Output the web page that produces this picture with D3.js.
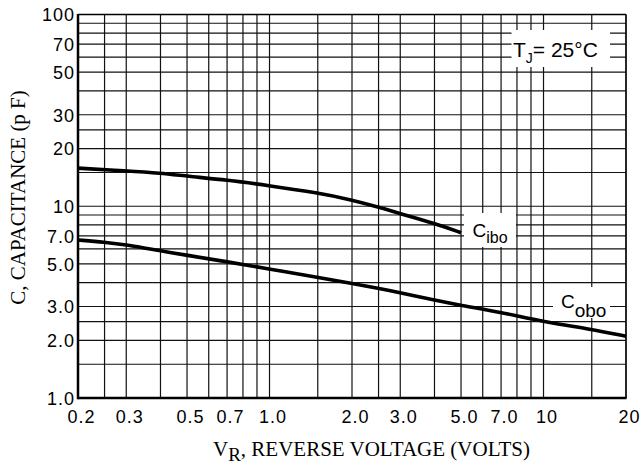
<!DOCTYPE html>
<html>
<head>
<meta charset="utf-8">
<script src="https://cdn.jsdelivr.net/npm/d3@7"></script>
<style>
  html, body { margin: 0; padding: 0; background: #fff; }
  svg { display: block; }
  .tick-label { font-family: "Liberation Sans", Arial, sans-serif; font-size: 18px; letter-spacing: 1px; fill: #000; }
  .axis-title { font-family: "Liberation Serif", "Times New Roman", serif; font-size: 21px; fill: #000; }
  .note { font-family: "Liberation Sans", Arial, sans-serif; fill: #000; }
</style>
</head>
<body>
<svg id="chart" width="642" height="466"></svg>
<script>
// Reverse voltage (V) tick positions and labels
const xTicks = [0.2, 0.3, 0.5, 0.7, 1, 2, 3, 5, 7, 10, 20];
const xTickLabels = ["0.2", "0.3", "0.5", "0.7", "1.0", "2.0", "3.0", "5.0", "7.0", "10", "20"];
// Capacitance (pF) tick positions and labels
const yTicks = [1, 2, 3, 5, 7, 10, 20, 30, 50, 70, 100];
const yTickLabels = ["1.0", "2.0", "3.0", "5.0", "7.0", "10", "20", "30", "50", "70", "100"];
// Log-paper grid lines
const xGrid = [0.2, 0.25, 0.3, 0.4, 0.5, 0.6, 0.7, 0.8, 0.9, 1, 1.5, 2, 2.5, 3, 4, 5, 6, 7, 8, 9, 10, 15, 20];
const yGrid = [1, 1.5, 2, 2.5, 3, 4, 5, 6, 7, 8, 9, 10, 15, 20, 25, 30, 40, 50, 60, 70, 80, 90, 100];

// Input capacitance Cibo vs reverse voltage
const vIbo = [0.2, 0.3, 0.4, 0.5, 0.7, 1.0, 1.5, 2.0, 2.5, 3.0, 4.0, 5.0];
const cIbo = [15.8, 15.3, 14.9, 14.35, 13.7, 12.8, 11.75, 10.8, 9.9, 9.15, 8.15, 7.28];
// Output capacitance Cobo vs reverse voltage
const vObo = [0.2, 0.25, 0.3, 0.4, 0.5, 0.7, 1.0, 1.5, 2.0, 2.5, 3.0, 4.0, 5.0, 7.0, 10, 15, 20];
const cObo = [6.67, 6.5, 6.3, 5.85, 5.55, 5.14, 4.7, 4.26, 3.95, 3.73, 3.54, 3.24, 3.04, 2.8, 2.5, 2.28, 2.1];

const svg = d3.select("#chart");
const plotLeft = 78, plotRight = 626, plotTop = 14.5, plotBottom = 398;

const x = d3.scaleLog().domain([0.2, 20]).range([plotLeft, plotRight]);
const y = d3.scaleLog().domain([1, 100]).range([plotBottom, plotTop]);

// grid
const grid = svg.append("g").attr("stroke", "#111").attr("stroke-width", 1.2);
grid.selectAll("line.gx").data(xGrid).join("line")
  .attr("class", "gx")
  .attr("x1", d => x(d)).attr("x2", d => x(d))
  .attr("y1", plotTop).attr("y2", plotBottom);
grid.selectAll("line.gy").data(yGrid).join("line")
  .attr("class", "gy")
  .attr("x1", plotLeft).attr("x2", plotRight)
  .attr("y1", d => y(d)).attr("y2", d => y(d));

// white backgrounds behind annotations
const boxes = svg.append("g").attr("fill", "#fff");
boxes.append("rect").attr("x", 511.5).attr("y", 30).attr("width", 98.5).attr("height", 37);
boxes.append("rect").attr("x", 464).attr("y", 213).attr("width", 52).attr("height", 34);
boxes.append("rect").attr("x", 553).attr("y", 287).attr("width", 57).attr("height", 31);

// curves
const line = d3.line().x(d => x(d[0])).y(d => y(d[1])).curve(d3.curveBasis);
svg.append("path")
  .datum(d3.zip(vIbo, cIbo))
  .attr("d", line)
  .attr("fill", "none").attr("stroke", "#000").attr("stroke-width", 3.6);
svg.append("path")
  .datum(d3.zip(vObo, cObo))
  .attr("d", line)
  .attr("fill", "none").attr("stroke", "#000").attr("stroke-width", 3.6);

// frame
const frame = svg.append("g").attr("stroke", "#000").attr("fill", "none");
frame.append("line").attr("x1", plotLeft).attr("x2", plotRight).attr("y1", plotTop).attr("y2", plotTop).attr("stroke-width", 1.3);
frame.append("line").attr("x1", plotRight).attr("x2", plotRight).attr("y1", plotTop).attr("y2", plotBottom).attr("stroke-width", 1.3);
frame.append("line").attr("x1", plotLeft).attr("x2", plotLeft).attr("y1", plotTop - 0.6).attr("y2", plotBottom + 1.2).attr("stroke-width", 2.5);
frame.append("line").attr("x1", plotLeft).attr("x2", plotRight + 0.6).attr("y1", plotBottom).attr("y2", plotBottom).attr("stroke-width", 2.4);

// axes (labels only)
const xAxis = d3.axisBottom(x).tickValues(xTicks)
  .tickFormat((d, i) => xTickLabels[i]).tickSize(0).tickPadding(0);
const gx = svg.append("g").attr("transform", `translate(3,${plotBottom})`).call(xAxis);
gx.select(".domain").remove();
gx.selectAll("text").attr("class", "tick-label").attr("y", 25).attr("dy", 0);

const yAxis = d3.axisLeft(y).tickValues(yTicks)
  .tickFormat((d, i) => yTickLabels[i]).tickSize(0).tickPadding(0);
const gy = svg.append("g").attr("transform", `translate(75,0)`).call(yAxis);
gy.select(".domain").remove();
gy.selectAll("text").attr("class", "tick-label").attr("x", 0).attr("dy", 6.3);

// axis titles
const xt = svg.append("text").attr("class", "axis-title")
  .attr("x", 371.5).attr("y", 456).attr("text-anchor", "middle");
xt.append("tspan").text("V");
xt.append("tspan").attr("font-size", 19).attr("dy", 5).text("R");
xt.append("tspan").attr("dy", -5).text(", REVERSE VOLTAGE (VOLTS)");

svg.append("text").attr("class", "axis-title")
  .attr("transform", "translate(25,197.5) rotate(-90)")
  .attr("text-anchor", "middle")
  .text("C, CAPACITANCE (p F)");

// junction temperature note
const tj = svg.append("text").attr("class", "note").attr("font-size", 21)
  .attr("x", 513).attr("y", 56.7);
tj.append("tspan").text("T");
tj.append("tspan").attr("font-size", 14).attr("dy", 6).text("J");
tj.append("tspan").attr("dy", -6).text("= 25");
tj.append("tspan").text("°C");

// curve labels
const li = svg.append("text").attr("class", "note").attr("font-size", 19)
  .attr("x", 472.5).attr("y", 236.7);
li.append("tspan").text("C");
li.append("tspan").attr("font-size", 16).attr("dy", 6.3).text("ibo");

const lo = svg.append("text").attr("class", "note").attr("font-size", 19)
  .attr("x", 561).attr("y", 308.3);
lo.append("tspan").text("C");
lo.append("tspan").attr("font-size", 19).attr("dy", 8.4).text("obo");
</script>
</body>
</html>
